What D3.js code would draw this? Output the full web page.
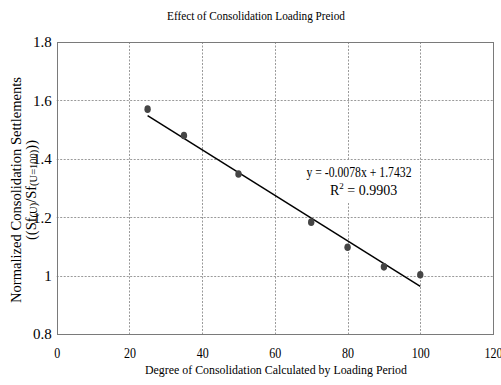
<!DOCTYPE html>
<html><head><meta charset="utf-8">
<script src="https://cdn.jsdelivr.net/npm/d3@7"></script>
<style>
body{margin:0;background:#fff;}
text{font-family:"Liberation Serif","Times New Roman",serif;fill:#000;}
</style></head>
<body><svg id="c" width="501" height="385"></svg>
<script>
const degree = [25, 35, 50, 70, 80, 90, 100];
const settlement = [1.57, 1.48, 1.348, 1.183, 1.097, 1.03, 1.003];
const xTicks = [0, 20, 40, 60, 80, 100, 120];
const yTicks = [0.8, 1.0, 1.2, 1.4, 1.6, 1.8];
const yTickLabels = ["0.8", "1", "1.2", "1.4", "1.6", "1.8"];
const slope = -0.0078, intercept = 1.7432, r2 = "0.9903";
const fitRange = [25, 100];

const svg = d3.select("#c");
const L = 56.7, R = 493, T = 42, B = 334;
const x = d3.scaleLinear().domain([0, 120]).range([L, R]);
const y = d3.scaleLinear().domain([0.8, 1.8]).range([B, T]);

// grid
const grid = svg.append("g").attr("stroke", "#9a9a9a").attr("stroke-width", 1).attr("stroke-dasharray", "2,1.5");
xTicks.filter(d => d > 0 && d < 120).forEach(d => {
  grid.append("line").attr("x1", Math.round(x(d)) + 0.5).attr("x2", Math.round(x(d)) + 0.5).attr("y1", T).attr("y2", B);
});
yTicks.filter(d => d > 0.8 && d < 1.8).forEach(d => {
  grid.append("line").attr("y1", Math.round(y(d)) + 0.5).attr("y2", Math.round(y(d)) + 0.5).attr("x1", L).attr("x2", R);
});

// axes labels via d3 axes
const xa = svg.append("g").attr("transform", `translate(0,${B})`)
  .call(d3.axisBottom(x).tickValues(xTicks).tickSize(0).tickPadding(14).tickFormat(d3.format("d")));
xa.select(".domain").remove();
xa.selectAll("text").attr("font-size", 14).attr("font-family", "Liberation Serif").attr("fill", "#000")
  .each(function(){ const n = this.textContent.length; d3.select(this).attr("textLength", n * 6).attr("lengthAdjust", "spacingAndGlyphs"); });

const ya = svg.append("g").attr("transform", `translate(${L},0)`)
  .call(d3.axisLeft(y).tickValues(yTicks).tickSize(0).tickPadding(5).tickFormat((d, i) => yTickLabels[i]));
ya.select(".domain").remove();
ya.selectAll("text").attr("font-size", 15).attr("font-family", "Liberation Serif").attr("fill", "#000");

// frame
svg.append("rect").attr("x", Math.round(L) + 0.5).attr("y", T + 0.5).attr("width", Math.round(R) - Math.round(L)).attr("height", B - T)
  .attr("fill", "none").attr("stroke", "#7a7a7a").attr("stroke-width", 1);

// equation box (hides grid)
const ex = 359;
svg.append("rect").attr("x", 303).attr("y", 160).attr("width", 113).attr("height", 42).attr("fill", "#fff");

// fit line
svg.append("line")
  .attr("x1", x(fitRange[0])).attr("y1", y(slope * fitRange[0] + intercept))
  .attr("x2", x(fitRange[1])).attr("y2", y(slope * fitRange[1] + intercept))
  .attr("stroke", "#000").attr("stroke-width", 1.5);

// points
svg.append("g").selectAll("ellipse").data(degree).join("ellipse")
  .attr("cx", d => x(d)).attr("cy", (d, i) => y(settlement[i]))
  .attr("rx", 3.2).attr("ry", 3.8).attr("fill", "#454545");

// equation text
svg.append("text").attr("x", ex).attr("y", 177).attr("text-anchor", "middle").attr("font-size", 14)
  .attr("textLength", 105).attr("lengthAdjust", "spacingAndGlyphs")
  .text(`y = ${slope.toFixed(4)}x + ${intercept.toFixed(4)}`);
const rt = svg.append("text").attr("x", 330).attr("y", 195).attr("font-size", 14);
rt.append("tspan").text("R");
rt.append("tspan").attr("font-size", 9).attr("dy", -6).text("2");
rt.append("tspan").attr("dy", 6).text(" = " + r2);

// title
svg.append("text").attr("x", 256).attr("y", 20).attr("text-anchor", "middle").attr("font-size", 12.5)
  .attr("textLength", 178).attr("lengthAdjust", "spacingAndGlyphs").text("Effect of Consolidation Loading Preiod");

// x label
svg.append("text").attr("x", 276).attr("y", 374).attr("text-anchor", "middle").attr("font-size", 13.5)
  .attr("textLength", 262).attr("lengthAdjust", "spacingAndGlyphs").text("Degree of Consolidation Calculated by Loading Period");

// y label
const yl = svg.append("g").attr("transform", "translate(21,190) rotate(-90)");
yl.append("text").attr("text-anchor", "middle").attr("font-size", 14.5)
  .attr("textLength", 226).attr("lengthAdjust", "spacingAndGlyphs").text("Normalized Consolidation Settlements");
const y2 = yl.append("text").attr("y", 15).attr("text-anchor", "middle").attr("font-size", 14.5);
y2.append("tspan").text("((Sf");
y2.append("tspan").attr("font-size", 10.5).attr("dy", 1).text("(U)");
y2.append("tspan").attr("dy", -1).text("/Sf");
y2.append("tspan").attr("font-size", 10.5).attr("dy", 1).text("(U=100)");
y2.append("tspan").attr("dy", -1).text("))");
</script></body></html>
